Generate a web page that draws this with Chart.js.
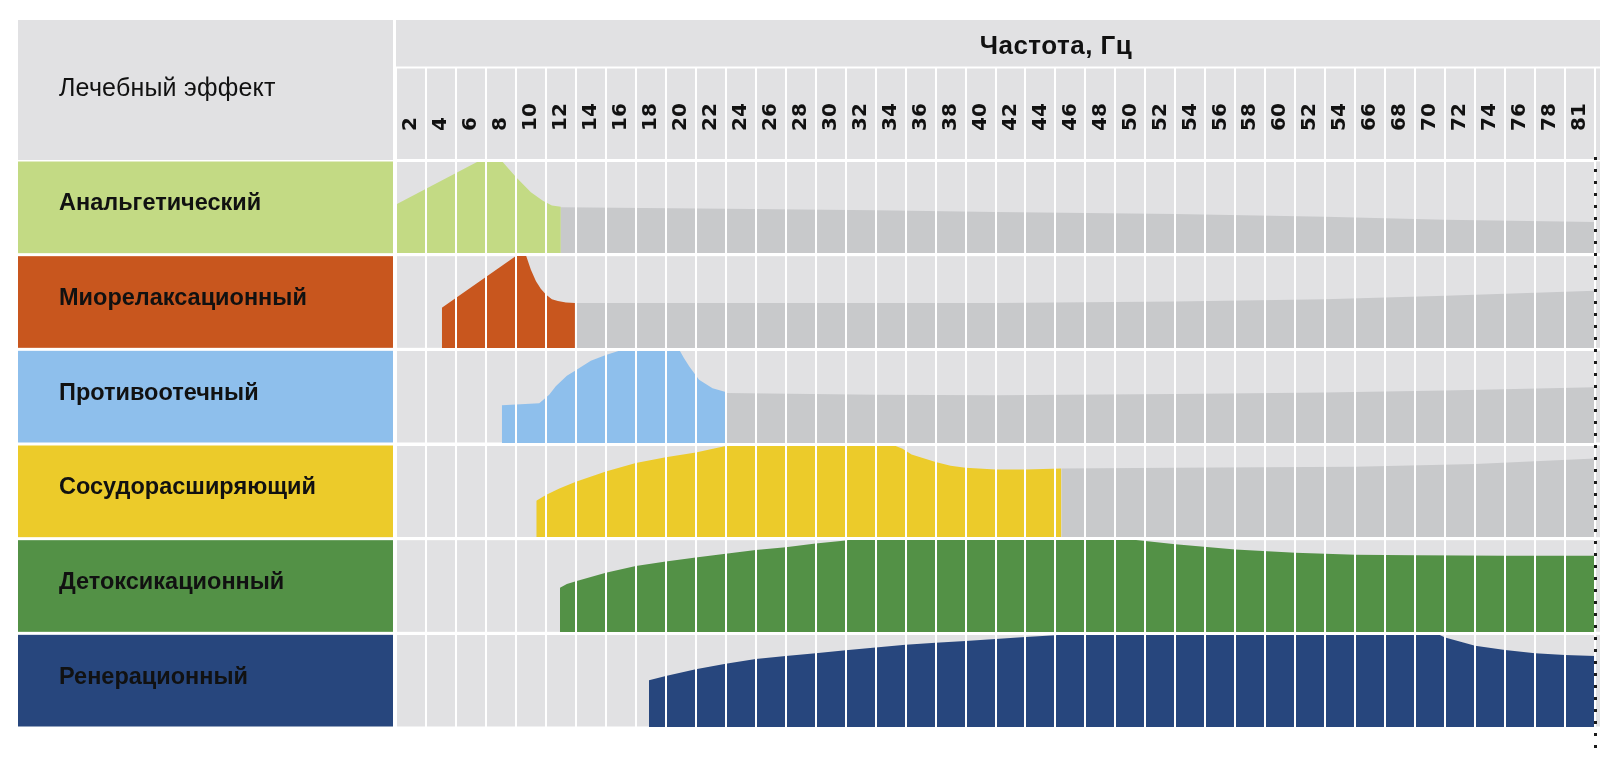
<!DOCTYPE html>
<html lang="ru">
<head>
<meta charset="utf-8">
<title>Лечебный эффект</title>
<script src="https://cdn.jsdelivr.net/npm/chart.js@4.4.1/dist/chart.umd.min.js"></script>
<style>
    html, body { margin: 0; padding: 0; background: #fff; }
    #wrap { position: relative; width: 1600px; height: 757px; overflow: hidden; }
    #chart { position: absolute; left: 0; top: 0; }
    .lbl {
        position: absolute;
        font-family: "Liberation Sans", Arial, sans-serif;
        color: #111;
        white-space: nowrap;
        transform: translateY(-50%);
    }
    .row { font-size: 23.5px; font-weight: bold; left: 59px; }
    #head { font-size: 25px; letter-spacing: 0.2px; left: 59px; top: 87px; }
    #title { font-size: 26px; letter-spacing: 0.5px; font-weight: bold; left: 1056px; top: 45px; transform: translate(-50%, -50%); }
</style>
</head>
<body>
<div id="wrap">
    <canvas id="chart" width="1600" height="757"></canvas>
    <div class="lbl" id="head">Лечебный эффект</div>
    <div class="lbl" id="title">Частота, Гц</div>
</div>
<script>
// column labels (as printed on the original)
const freqLabels = ['2', '4', '6', '8', '10', '12', '14', '16', '18', '20',
    '22', '24', '26', '28', '30', '32', '34', '36', '38', '40',
    '42', '44', '46', '48', '50', '52', '54', '56', '58', '60',
    '52', '54', '66', '68', '70', '72', '74', '76', '78', '81'];

const effects = ['Анальгетический', 'Миорелаксационный', 'Противоотечный',
    'Сосудорасширяющий', 'Детоксикационный', 'Ренерационный'];
const effectColors = ['#c3da84', '#c8561e', '#8ebfec', '#eccb2a', '#539146', '#27467d'];
const restColor = '#c8c9cb';
const cellColor = '#e1e1e3';

// active zone of each effect: [column position, share of row height]
const analgesic = [[0, 0.53], [2.83, 1], [3.5, 1], [4.0, 0.82], [4.5, 0.66], [4.9, 0.57],
    [5.2, 0.52], [5.5, 0.505]];
const myorelaxant = [[1.53, 0.44], [4.06, 1], [4.33, 1], [4.5, 0.84], [4.67, 0.72], [4.83, 0.64],
    [5.0, 0.58], [5.2, 0.53], [5.4, 0.51], [5.67, 0.495], [5.97, 0.49]];
const antiEdema = [[3.53, 0.41], [4.78, 0.43], [5.11, 0.52], [5.33, 0.61], [5.7, 0.72], [6.0, 0.78],
    [6.5, 0.88], [7.0, 0.94], [7.5, 0.99], [7.8, 1], [9.44, 1], [9.6, 0.91], [9.78, 0.82],
    [10.11, 0.68], [10.56, 0.59], [11.0, 0.55]];
const vasodilating = [[4.68, 0.40], [5.0, 0.46], [5.45, 0.53], [6, 0.60], [7, 0.71], [8, 0.80],
    [9, 0.86], [10, 0.91], [11, 0.98], [11.2, 1], [16.5, 1], [16.9, 0.95], [17.2, 0.89],
    [17.6, 0.85], [18, 0.81], [18.5, 0.77], [19, 0.75], [20, 0.73], [21, 0.73], [22.2, 0.74]];
const detox = [[5.47, 0.48], [5.7, 0.52], [6, 0.55], [7, 0.64], [8, 0.71], [9, 0.76], [10, 0.80],
    [11, 0.84], [12, 0.88], [13, 0.91], [14, 0.95], [15, 0.98], [15.3, 1], [24.3, 1], [26, 0.94],
    [28, 0.885], [30, 0.85], [32, 0.83], [34, 0.825], [37, 0.82], [40.2, 0.82]];
const regenerating = [[8.44, 0.505], [9, 0.55], [10, 0.62], [11, 0.68], [12, 0.73], [13, 0.76],
    [14, 0.79], [15, 0.82], [16, 0.85], [17, 0.88], [18, 0.90], [19, 0.92], [20, 0.94], [21, 0.96],
    [22, 0.98], [22.5, 1], [34.7, 1], [35, 0.955], [36, 0.87], [37, 0.825], [38, 0.79], [39, 0.77],
    [40.2, 0.76]];

// weaker (grey) tail after the active zone
const analgesicRest = [[5.5, 0.50], [11, 0.485], [16, 0.47], [20, 0.45], [26, 0.43], [31, 0.40],
    [35, 0.37], [40.2, 0.345]];
const myorelaxantRest = [[5.97, 0.49], [11, 0.49], [16, 0.49], [20, 0.49], [26, 0.505], [31, 0.53],
    [35, 0.567], [40.2, 0.62]];
const antiEdemaRest = [[11, 0.54], [16, 0.52], [20, 0.515], [26, 0.527], [31, 0.545], [35, 0.564],
    [40.2, 0.60]];
const vasodilatingRest = [[22.2, 0.74], [26, 0.75], [32, 0.76], [36, 0.79], [40.2, 0.85]];

const activeZones = [analgesic, myorelaxant, antiEdema, vasodilating, detox, regenerating];
const restZones = [analgesicRest, myorelaxantRest, antiEdemaRest, vasodilatingRest, null, null];

const W = 1600;
const rowCount = effects.length;

// row i sits between (rowCount-1-i) and (rowCount-i) on the y scale
function toPoints(zone, base) {
    return zone.map(p => ({ x: p[0], y: base + p[1] }));
}

const datasets = [];
effects.forEach((name, i) => {
    const base = rowCount - 1 - i;
    const common = {
        xAxisID: 'xl',
        yAxisID: 'y',
        fill: { value: base },
        borderWidth: 0,
        borderColor: 'transparent',
        pointRadius: 0,
        tension: 0,
        clip: { left: 0, top: 0, right: 6, bottom: 0 }
    };
    if (restZones[i]) {
        datasets.push(Object.assign({ label: name + ' (слабый)', data: toPoints(restZones[i], base),
            backgroundColor: restColor }, common));
    }
    datasets.push(Object.assign({ label: name, data: toPoints(activeZones[i], base),
        backgroundColor: effectColors[i] }, common));
});

const tablePlugin = {
    id: 'table',
    beforeDraw(chart) {
        const { ctx, chartArea: a } = chart;
        const y = chart.scales.y;
        ctx.save();
        ctx.fillStyle = cellColor;
        ctx.fillRect(18, 20, 375, a.top - 20);
        ctx.fillRect(a.left, 20, W - a.left, 46.5);
        ctx.fillRect(a.left, 68.5, W - a.left, a.top - 68.5);
        effects.forEach((name, i) => {
            const base = rowCount - 1 - i;
            const top = y.getPixelForValue(base + 1) + 1.5;
            const bottom = y.getPixelForValue(base) - 1.5;
            ctx.fillStyle = cellColor;
            ctx.fillRect(a.left, top, W - a.left, bottom - top);
            ctx.fillStyle = effectColors[i];
            ctx.fillRect(18, top, 375, bottom - top);
        });
        ctx.restore();
    },
    afterDraw(chart) {
        const { ctx, chartArea: a } = chart;
        ctx.save();
        ctx.strokeStyle = '#1b1b1b';
        ctx.lineWidth = 3;
        ctx.setLineDash([3, 9]);
        ctx.beginPath();
        ctx.moveTo(a.right + 0.5, a.top - 3);
        ctx.lineTo(a.right + 0.5, 757);
        ctx.stroke();
        ctx.restore();
    }
};

const chart = new Chart(document.getElementById('chart'), {
    type: 'line',
    data: { labels: freqLabels, datasets: datasets },
    options: {
        responsive: false,
        animation: false,
        layout: { padding: { left: 396, right: 5, top: 68, bottom: 29 } },
        plugins: { legend: { display: false }, tooltip: { enabled: false }, title: { display: false } },
        scales: {
            x: {
                type: 'category',
                position: 'top',
                offset: true,
                border: { display: false },
                grid: { offset: true, color: '#ffffff', lineWidth: 2, tickLength: 92, z: 1 },
                ticks: {
                    autoSkip: false,
                    minRotation: 90,
                    maxRotation: 90,
                    mirror: true,
                    padding: -29,
                    color: '#111',
                    font: { family: 'DejaVu Sans', weight: 'bold', size: 20 }
                },
                afterFit(scale) { scale.height = 92; }
            },
            xl: { type: 'linear', display: false, min: 0, max: 40 },
            y: {
                type: 'linear',
                min: 0,
                max: rowCount,
                border: { display: false },
                grid: { color: '#ffffff', lineWidth: 3, drawTicks: false, z: 1 },
                ticks: { display: false, stepSize: 1 }
            }
        }
    },
    plugins: [tablePlugin]
});

// row names in the left column
const wrap = document.getElementById('wrap');
const yScale = chart.scales.y;
effects.forEach((name, i) => {
    const base = rowCount - 1 - i;
    const mid = (yScale.getPixelForValue(base) + yScale.getPixelForValue(base + 1)) / 2;
    const div = document.createElement('div');
    div.className = 'lbl row';
    div.textContent = name;
    div.style.top = (mid - 5) + 'px';
    wrap.appendChild(div);
});
</script>
</body>
</html>
